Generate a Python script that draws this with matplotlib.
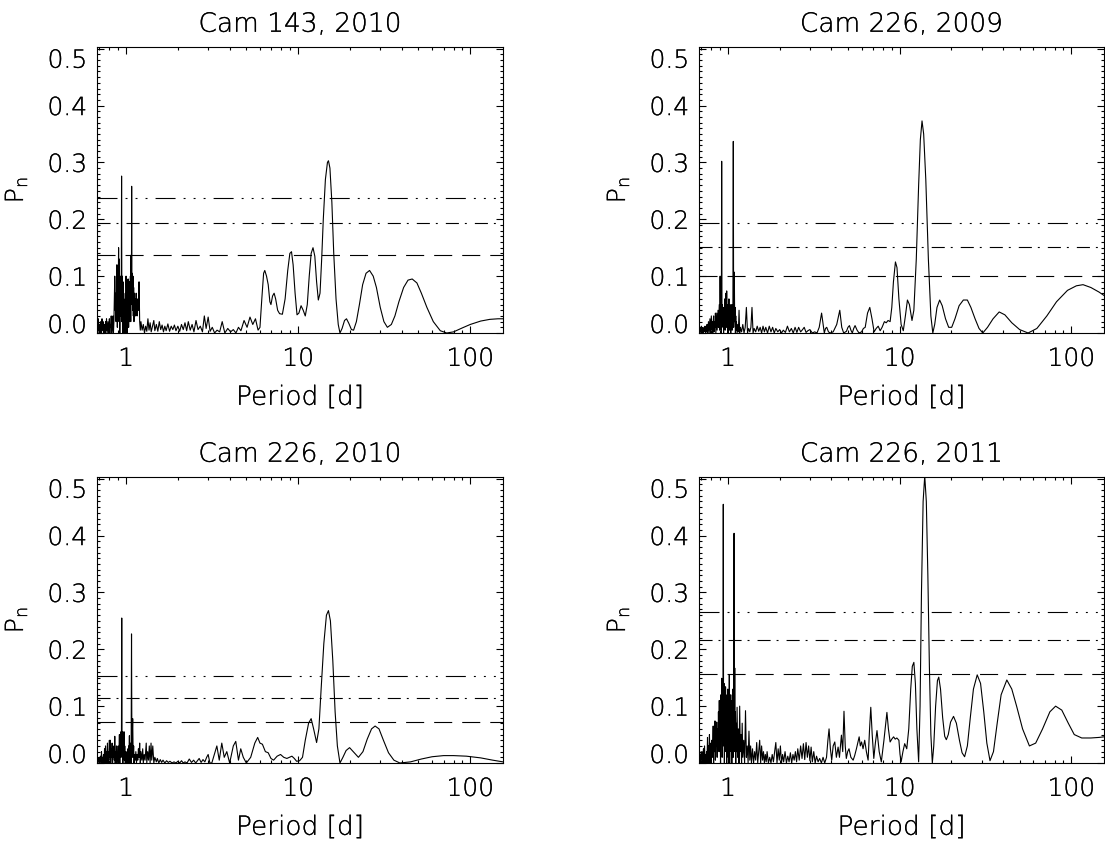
import matplotlib
matplotlib.use("Agg")
import matplotlib.pyplot as plt
import matplotlib.patheffects as pe
from matplotlib.ticker import LogLocator, MultipleLocator, NullFormatter

plt.rcParams['font.family'] = ['DejaVu Sans']
plt.rcParams['font.weight'] = 'light'
plt.rcParams['axes.titleweight'] = 'light'
plt.rcParams['axes.labelweight'] = 'light'
plt.rcParams['mathtext.fontset'] = 'custom'
plt.rcParams['mathtext.rm'] = 'DejaVu Sans:light'
plt.rcParams['lines.scale_dashes'] = False

titles = ["Cam 143, 2010", "Cam 226, 2009", "Cam 226, 2010", "Cam 226, 2011"]

# false alarm levels per panel (dashed, dash-dot, dash-dot-dot-dot)
fap_dash = [0.137, 0.101, 0.072, 0.157]
fap_dashdot = [0.194, 0.152, 0.114, 0.217]
fap_dash3dot = [0.238, 0.193, 0.153, 0.266]

# (period [d], P_n)
cam143_2010 = [
    (0.680, 0.02), (0.685, 0.0), (0.690, 0.025), (0.695, 0.005), (0.700, 0.015),
    (0.705, 0.0), (0.710, 0.02), (0.715, 0.01), (0.720, 0.0), (0.725, 0.025),
    (0.730, 0.005), (0.735, 0.02), (0.740, 0.0), (0.745, 0.015), (0.750, 0.01),
    (0.755, 0.0), (0.760, 0.02), (0.765, 0.005), (0.770, 0.025), (0.775, 0.0),
    (0.780, 0.01), (0.785, 0.02), (0.790, 0.0), (0.795, 0.005), (0.800, 0.025),
    (0.805, 0.0), (0.810, 0.015), (0.815, 0.01), (0.820, 0.03), (0.825, 0.0),
    (0.830, 0.005), (0.835, 0.02), (0.840, 0.03), (0.845, 0.0), (0.850, 0.02),
    (0.855, 0.06), (0.860, 0.10), (0.865, 0.04), (0.870, 0.07), (0.875, 0.02),
    (0.880, 0.09), (0.885, 0.12), (0.890, 0.01), (0.895, 0.11), (0.900, 0.05),
    (0.905, 0.15), (0.910, 0.02), (0.915, 0.13), (0.920, 0.0), (0.925, 0.10),
    (0.930, 0.03), (0.935, 0.09), (0.938, 0.04), (0.942, 0.276), (0.946, 0.02),
    (0.950, 0.10), (0.955, 0.0), (0.960, 0.09), (0.965, 0.04), (0.970, 0.06),
    (0.975, 0.0), (0.980, 0.05), (0.985, 0.02), (0.990, 0.07), (0.995, 0.0),
    (1.000, 0.10), (1.005, 0.04), (1.010, 0.095), (1.015, 0.0), (1.020, 0.08),
    (1.025, 0.03), (1.030, 0.095), (1.035, 0.01), (1.040, 0.07), (1.045, 0.02),
    (1.050, 0.09), (1.055, 0.05), (1.060, 0.10), (1.065, 0.02), (1.070, 0.137),
    (1.074, 0.05), (1.078, 0.258), (1.082, 0.06), (1.087, 0.105), (1.092, 0.04),
    (1.097, 0.10), (1.102, 0.03), (1.107, 0.08), (1.112, 0.02), (1.117, 0.07),
    (1.122, 0.04), (1.130, 0.06), (1.137, 0.03), (1.145, 0.07), (1.150, 0.05),
    (1.160, 0.03), (1.170, 0.06), (1.180, 0.04), (1.190, 0.09), (1.200, 0.02),
    (1.210, 0.005), (1.220, 0.02), (1.240, 0.005), (1.260, 0.015), (1.280, 0.0),
    (1.300, 0.012), (1.320, 0.003), (1.340, 0.025), (1.360, 0.005), (1.380, 0.018),
    (1.400, 0.002), (1.420, 0.01), (1.450, 0.022), (1.470, 0.004), (1.500, 0.015),
    (1.530, 0.003), (1.560, 0.02), (1.590, 0.006), (1.620, 0.014), (1.650, 0.002),
    (1.680, 0.012), (1.710, 0.004), (1.750, 0.016), (1.790, 0.003), (1.830, 0.012),
    (1.870, 0.006), (1.910, 0.014), (1.950, 0.004), (2.000, 0.012), (2.050, 0.003),
    (2.100, 0.015), (2.150, 0.006), (2.200, 0.018), (2.250, 0.004), (2.300, 0.02),
    (2.360, 0.005), (2.420, 0.015), (2.480, 0.002), (2.550, 0.022), (2.620, 0.006),
    (2.700, 0.012), (2.780, 0.002), (2.850, 0.03), (2.920, 0.008), (3.000, 0.028),
    (3.080, 0.003), (3.170, 0.01), (3.270, 0.0), (3.380, 0.005), (3.500, 0.002),
    (3.620, 0.02), (3.750, 0.0), (3.900, 0.008), (4.050, 0.002), (4.200, 0.006),
    (4.350, 0.0), (4.500, 0.01), (4.650, 0.004), (4.850, 0.022), (5.050, 0.01),
    (5.250, 0.028), (5.450, 0.015), (5.650, 0.025), (5.850, 0.005), (6.000, 0.01),
    (6.150, 0.06), (6.300, 0.105), (6.400, 0.11), (6.550, 0.10), (6.700, 0.085),
    (6.850, 0.055), (6.950, 0.05), (7.100, 0.065), (7.250, 0.07), (7.400, 0.06),
    (7.600, 0.04), (7.800, 0.034), (8.100, 0.033), (8.400, 0.06), (8.700, 0.11),
    (8.950, 0.14), (9.150, 0.143), (9.350, 0.12), (9.600, 0.07), (9.850, 0.032),
    (10.10, 0.035), (10.40, 0.048), (10.70, 0.04), (11.00, 0.03), (11.30, 0.05),
    (11.60, 0.10), (11.90, 0.14), (12.20, 0.15), (12.50, 0.135), (12.80, 0.09),
    (13.10, 0.058), (13.40, 0.07), (13.70, 0.13), (14.00, 0.20), (14.40, 0.27),
    (14.80, 0.30), (15.00, 0.303), (15.30, 0.29), (15.70, 0.23), (16.10, 0.14),
    (16.60, 0.06), (17.10, 0.015), (17.50, 0.0), (18.00, 0.008), (18.60, 0.022),
    (19.10, 0.025), (19.70, 0.017), (20.40, 0.006), (21.00, 0.005), (21.80, 0.02),
    (22.70, 0.05), (23.70, 0.085), (24.80, 0.105), (26.00, 0.11), (27.30, 0.10),
    (28.50, 0.08), (30.00, 0.045), (31.50, 0.02), (33.00, 0.01), (34.80, 0.015),
    (36.50, 0.03), (38.50, 0.055), (41.00, 0.08), (43.50, 0.093), (46.00, 0.095),
    (49.00, 0.088), (52.00, 0.07), (56.00, 0.045), (61.00, 0.02), (67.00, 0.004),
    (73.00, 0.0), (80.00, 0.002), (90.00, 0.009), (100.0, 0.015), (115.0, 0.021),
    (130.0, 0.024), (145.0, 0.025), (155.0, 0.025),
]

cam226_2009 = [
    (0.680, 0.01), (0.685, 0.0), (0.690, 0.008), (0.695, 0.002), (0.700, 0.012),
    (0.705, 0.0), (0.710, 0.006), (0.715, 0.01), (0.720, 0.0), (0.725, 0.008),
    (0.730, 0.003), (0.735, 0.012), (0.740, 0.0), (0.745, 0.008), (0.750, 0.002),
    (0.755, 0.015), (0.760, 0.0), (0.765, 0.01), (0.770, 0.02), (0.775, 0.0),
    (0.780, 0.012), (0.785, 0.025), (0.790, 0.0), (0.795, 0.015), (0.800, 0.03),
    (0.805, 0.005), (0.810, 0.02), (0.815, 0.0), (0.820, 0.018), (0.825, 0.03),
    (0.830, 0.002), (0.835, 0.02), (0.840, 0.01), (0.845, 0.035), (0.850, 0.0),
    (0.855, 0.02), (0.860, 0.035), (0.865, 0.005), (0.870, 0.025), (0.875, 0.04),
    (0.880, 0.01), (0.885, 0.03), (0.890, 0.05), (0.895, 0.005), (0.900, 0.10),
    (0.905, 0.02), (0.910, 0.05), (0.915, 0.0), (0.919, 0.302), (0.923, 0.01),
    (0.928, 0.05), (0.933, 0.02), (0.938, 0.045), (0.943, 0.0), (0.948, 0.04),
    (0.953, 0.03), (0.958, 0.06), (0.963, 0.005), (0.968, 0.05), (0.973, 0.07),
    (0.978, 0.01), (0.983, 0.074), (0.988, 0.02), (0.993, 0.05), (0.998, 0.0),
    (1.003, 0.045), (1.008, 0.03), (1.013, 0.06), (1.018, 0.005), (1.023, 0.05),
    (1.028, 0.02), (1.033, 0.045), (1.038, 0.0), (1.043, 0.05), (1.048, 0.03),
    (1.053, 0.045), (1.058, 0.005), (1.063, 0.05), (1.068, 0.02), (1.074, 0.337),
    (1.079, 0.01), (1.084, 0.04), (1.089, 0.107), (1.094, 0.02), (1.100, 0.045),
    (1.105, 0.0), (1.110, 0.03), (1.115, 0.005), (1.120, 0.02), (1.130, 0.0),
    (1.140, 0.015), (1.150, 0.002), (1.160, 0.04), (1.170, 0.0), (1.180, 0.01),
    (1.200, 0.002), (1.220, 0.015), (1.240, 0.0), (1.260, 0.01), (1.280, 0.045),
    (1.300, 0.0), (1.320, 0.008), (1.340, 0.002), (1.360, 0.01), (1.380, 0.045),
    (1.400, 0.0), (1.420, 0.008), (1.450, 0.002), (1.480, 0.012), (1.510, 0.003),
    (1.540, 0.01), (1.570, 0.0), (1.600, 0.012), (1.630, 0.002), (1.660, 0.01),
    (1.700, 0.0), (1.740, 0.012), (1.780, 0.002), (1.820, 0.01), (1.860, 0.0),
    (1.900, 0.008), (1.950, 0.002), (2.000, 0.006), (2.050, 0.0), (2.100, 0.005),
    (2.160, 0.001), (2.220, 0.012), (2.280, 0.002), (2.340, 0.008), (2.400, 0.0),
    (2.460, 0.01), (2.520, 0.001), (2.580, 0.01), (2.650, 0.002), (2.720, 0.006),
    (2.780, 0.01), (2.850, 0.001), (2.920, 0.004), (3.000, 0.006), (3.100, 0.0),
    (3.200, 0.002), (3.300, 0.0), (3.400, 0.01), (3.510, 0.035), (3.600, 0.01),
    (3.640, 0.0), (3.700, 0.008), (3.760, 0.01), (3.850, 0.002), (3.940, 0.0),
    (4.100, 0.002), (4.300, 0.015), (4.480, 0.04), (4.600, 0.01), (4.720, 0.0),
    (4.900, 0.003), (5.000, 0.01), (5.100, 0.013), (5.200, 0.005), (5.300, 0.0),
    (5.400, 0.008), (5.500, 0.013), (5.650, 0.005), (5.800, 0.0), (6.000, 0.002),
    (6.150, 0.008), (6.300, 0.01), (6.500, 0.035), (6.700, 0.045), (6.900, 0.025),
    (7.100, 0.002), (7.300, 0.008), (7.500, 0.012), (7.700, 0.004), (7.900, 0.01),
    (8.150, 0.02), (8.350, 0.018), (8.560, 0.022), (8.800, 0.02), (9.000, 0.045),
    (9.200, 0.09), (9.450, 0.125), (9.650, 0.115), (9.900, 0.06), (10.20, 0.015),
    (10.50, 0.004), (10.80, 0.03), (11.10, 0.058), (11.40, 0.05), (11.80, 0.022),
    (12.10, 0.04), (12.50, 0.13), (12.90, 0.26), (13.20, 0.34), (13.50, 0.373),
    (13.80, 0.35), (14.20, 0.27), (14.70, 0.13), (15.20, 0.03), (15.60, 0.0),
    (16.00, 0.015), (16.50, 0.045), (17.10, 0.058), (17.70, 0.048), (18.50, 0.025),
    (19.30, 0.01), (20.10, 0.01), (21.00, 0.025), (22.20, 0.048), (23.50, 0.058),
    (24.80, 0.058), (26.00, 0.045), (27.50, 0.025), (29.00, 0.008), (30.50, 0.0),
    (32.50, 0.01), (35.00, 0.025), (38.00, 0.037), (41.00, 0.032), (45.00, 0.018),
    (50.00, 0.006), (56.00, 0.0), (63.00, 0.008), (72.00, 0.03), (82.00, 0.055),
    (95.00, 0.075), (107.0, 0.083), (117.0, 0.085), (130.0, 0.08), (145.0, 0.072),
    (155.0, 0.066),
]

cam226_2010 = [
    (0.680, 0.005), (0.685, 0.0), (0.690, 0.008), (0.695, 0.002), (0.700, 0.01),
    (0.705, 0.0), (0.710, 0.012), (0.715, 0.003), (0.720, 0.02), (0.725, 0.0),
    (0.730, 0.01), (0.735, 0.005), (0.740, 0.015), (0.745, 0.0), (0.750, 0.025),
    (0.755, 0.005), (0.760, 0.03), (0.765, 0.0), (0.770, 0.02), (0.775, 0.01),
    (0.780, 0.035), (0.785, 0.0), (0.790, 0.02), (0.795, 0.005), (0.800, 0.04),
    (0.805, 0.01), (0.810, 0.04), (0.815, 0.0), (0.820, 0.025), (0.825, 0.01),
    (0.830, 0.035), (0.835, 0.0), (0.840, 0.02), (0.845, 0.01), (0.850, 0.03),
    (0.855, 0.005), (0.860, 0.047), (0.865, 0.0), (0.870, 0.02), (0.875, 0.005),
    (0.880, 0.03), (0.885, 0.0), (0.890, 0.015), (0.895, 0.005), (0.900, 0.03),
    (0.905, 0.0), (0.910, 0.02), (0.915, 0.05), (0.920, 0.0), (0.925, 0.045),
    (0.930, 0.01), (0.935, 0.055), (0.940, 0.02), (0.944, 0.255), (0.948, 0.01),
    (0.953, 0.055), (0.958, 0.0), (0.963, 0.05), (0.968, 0.02), (0.973, 0.055),
    (0.978, 0.005), (0.983, 0.03), (0.990, 0.0), (0.995, 0.02), (1.000, 0.005),
    (1.005, 0.015), (1.010, 0.0), (1.015, 0.02), (1.020, 0.002), (1.025, 0.025),
    (1.030, 0.0), (1.035, 0.03), (1.040, 0.005), (1.046, 0.048), (1.050, 0.0),
    (1.055, 0.03), (1.060, 0.01), (1.065, 0.035), (1.070, 0.0), (1.076, 0.227),
    (1.082, 0.01), (1.087, 0.05), (1.093, 0.078), (1.100, 0.01), (1.107, 0.03),
    (1.113, 0.0), (1.120, 0.015), (1.130, 0.005), (1.140, 0.02), (1.150, 0.0),
    (1.160, 0.015), (1.170, 0.005), (1.180, 0.025), (1.190, 0.01), (1.200, 0.035),
    (1.210, 0.0), (1.220, 0.02), (1.235, 0.005), (1.250, 0.025), (1.260, 0.0),
    (1.275, 0.015), (1.290, 0.005), (1.310, 0.035), (1.320, 0.0), (1.335, 0.02),
    (1.350, 0.005), (1.365, 0.03), (1.380, 0.0), (1.397, 0.035), (1.410, 0.005),
    (1.430, 0.03), (1.450, 0.0), (1.470, 0.01), (1.500, 0.002), (1.520, 0.008),
    (1.550, 0.0), (1.580, 0.006), (1.610, 0.001), (1.640, 0.005), (1.680, 0.0),
    (1.720, 0.004), (1.760, 0.001), (1.800, 0.003), (1.850, 0.0), (1.900, 0.002),
    (1.950, 0.0), (2.000, 0.003), (2.050, 0.0), (2.100, 0.004), (2.150, 0.0),
    (2.200, 0.002), (2.260, 0.0), (2.330, 0.007), (2.400, 0.001), (2.470, 0.005),
    (2.540, 0.0), (2.600, 0.004), (2.660, 0.008), (2.730, 0.001), (2.800, 0.006),
    (2.870, 0.002), (2.940, 0.01), (3.000, 0.015), (3.070, 0.0), (3.150, 0.0),
    (3.370, 0.03), (3.480, 0.005), (3.600, 0.035), (3.720, 0.01), (3.850, 0.02),
    (4.000, 0.0), (4.200, 0.03), (4.340, 0.038), (4.500, 0.005), (4.640, 0.025),
    (4.800, 0.01), (5.000, 0.0), (5.300, 0.01), (5.600, 0.035), (5.820, 0.045),
    (6.000, 0.035), (6.200, 0.033), (6.450, 0.02), (6.700, 0.018), (6.950, 0.008),
    (7.200, 0.005), (7.550, 0.012), (7.900, 0.015), (8.250, 0.01), (8.600, 0.008),
    (8.900, 0.01), (9.200, 0.012), (9.500, 0.008), (9.800, 0.003), (10.20, 0.004),
    (10.60, 0.01), (11.00, 0.04), (11.50, 0.07), (11.90, 0.078), (12.30, 0.06),
    (12.80, 0.036), (13.20, 0.06), (13.60, 0.13), (14.10, 0.21), (14.60, 0.26),
    (15.00, 0.268), (15.40, 0.25), (15.90, 0.18), (16.40, 0.09), (16.90, 0.03),
    (17.50, 0.0), (18.20, 0.01), (19.00, 0.022), (19.90, 0.027), (20.90, 0.02),
    (22.40, 0.01), (23.80, 0.02), (25.20, 0.042), (26.70, 0.06), (28.00, 0.065),
    (29.50, 0.06), (31.30, 0.04), (33.50, 0.018), (36.00, 0.005), (39.00, 0.0),
    (45.00, 0.002), (52.00, 0.007), (60.00, 0.011), (70.00, 0.013), (80.00, 0.013),
    (95.00, 0.012), (115.0, 0.009), (135.0, 0.005), (155.0, 0.002),
]

cam226_2011 = [
    (0.680, 0.01), (0.685, 0.02), (0.690, 0.0), (0.695, 0.015), (0.700, 0.005),
    (0.705, 0.02), (0.710, 0.0), (0.715, 0.01), (0.720, 0.025), (0.725, 0.0),
    (0.730, 0.03), (0.735, 0.005), (0.740, 0.015), (0.745, 0.0), (0.750, 0.02),
    (0.755, 0.005), (0.760, 0.045), (0.765, 0.0), (0.770, 0.03), (0.775, 0.01),
    (0.780, 0.05), (0.785, 0.0), (0.790, 0.02), (0.795, 0.035), (0.800, 0.0),
    (0.805, 0.04), (0.810, 0.01), (0.815, 0.03), (0.820, 0.065), (0.825, 0.0),
    (0.830, 0.045), (0.835, 0.02), (0.840, 0.074), (0.845, 0.005), (0.850, 0.05),
    (0.855, 0.03), (0.860, 0.072), (0.865, 0.01), (0.870, 0.06), (0.875, 0.02),
    (0.880, 0.09), (0.885, 0.03), (0.890, 0.11), (0.895, 0.02), (0.900, 0.08),
    (0.905, 0.0), (0.910, 0.12), (0.915, 0.04), (0.920, 0.149), (0.925, 0.01),
    (0.930, 0.13), (0.935, 0.05), (0.939, 0.455), (0.943, 0.03), (0.948, 0.14),
    (0.953, 0.0), (0.958, 0.11), (0.963, 0.04), (0.968, 0.134), (0.973, 0.02),
    (0.978, 0.10), (0.983, 0.0), (0.988, 0.12), (0.993, 0.05), (0.998, 0.13),
    (1.003, 0.01), (1.008, 0.09), (1.013, 0.03), (1.018, 0.155), (1.023, 0.0),
    (1.028, 0.10), (1.033, 0.04), (1.038, 0.12), (1.043, 0.02), (1.048, 0.09),
    (1.053, 0.0), (1.058, 0.11), (1.063, 0.03), (1.068, 0.13), (1.073, 0.01),
    (1.080, 0.05), (1.085, 0.404), (1.090, 0.02), (1.095, 0.167), (1.100, 0.03),
    (1.105, 0.09), (1.110, 0.0), (1.115, 0.07), (1.120, 0.02), (1.130, 0.098),
    (1.140, 0.01), (1.150, 0.06), (1.160, 0.0), (1.170, 0.10), (1.180, 0.02),
    (1.190, 0.05), (1.200, 0.0), (1.210, 0.07), (1.220, 0.01), (1.235, 0.04),
    (1.250, 0.0), (1.265, 0.092), (1.280, 0.01), (1.295, 0.03), (1.310, 0.0),
    (1.325, 0.056), (1.340, 0.005), (1.355, 0.03), (1.370, 0.0), (1.390, 0.025),
    (1.410, 0.0), (1.430, 0.02), (1.450, 0.005), (1.470, 0.036), (1.490, 0.0),
    (1.510, 0.02), (1.530, 0.04), (1.550, 0.0), (1.570, 0.03), (1.590, 0.005),
    (1.610, 0.02), (1.630, 0.0), (1.650, 0.015), (1.670, 0.002), (1.690, 0.02),
    (1.720, 0.0), (1.750, 0.01), (1.780, 0.0), (1.810, 0.015), (1.840, 0.002),
    (1.870, 0.02), (1.900, 0.036), (1.930, 0.0), (1.960, 0.025), (1.990, 0.005),
    (2.020, 0.03), (2.050, 0.0), (2.080, 0.015), (2.110, 0.002), (2.150, 0.02),
    (2.190, 0.0), (2.230, 0.012), (2.270, 0.002), (2.310, 0.018), (2.350, 0.0),
    (2.390, 0.015), (2.430, 0.005), (2.470, 0.02), (2.510, 0.002), (2.550, 0.025),
    (2.600, 0.005), (2.650, 0.03), (2.700, 0.008), (2.750, 0.034), (2.800, 0.006),
    (2.850, 0.036), (2.900, 0.01), (2.950, 0.03), (3.000, 0.004), (3.050, 0.028),
    (3.100, 0.002), (3.160, 0.02), (3.220, 0.0), (3.280, 0.012), (3.350, 0.002),
    (3.420, 0.008), (3.500, 0.0), (3.580, 0.01), (3.660, 0.0), (3.750, 0.01),
    (3.820, 0.04), (3.880, 0.06), (3.950, 0.025), (4.020, 0.005), (4.100, 0.03),
    (4.190, 0.037), (4.280, 0.01), (4.380, 0.028), (4.460, 0.01), (4.580, 0.049),
    (4.660, 0.02), (4.740, 0.091), (4.820, 0.03), (4.890, 0.008), (4.980, 0.02),
    (5.070, 0.025), (5.200, 0.01), (5.360, 0.005), (5.470, 0.013), (5.600, 0.025),
    (5.810, 0.046), (5.900, 0.03), (6.000, 0.037), (6.120, 0.025), (6.260, 0.04),
    (6.400, 0.02), (6.550, 0.005), (6.680, 0.06), (6.790, 0.098), (6.920, 0.05),
    (7.070, 0.008), (7.220, 0.035), (7.380, 0.057), (7.600, 0.02), (7.820, 0.002),
    (8.100, 0.04), (8.430, 0.089), (8.600, 0.06), (8.800, 0.037), (9.000, 0.042),
    (9.220, 0.046), (9.420, 0.042), (9.630, 0.044), (9.900, 0.04), (10.05, 0.015),
    (10.20, 0.002), (10.45, 0.02), (10.70, 0.034), (11.00, 0.025), (11.30, 0.06),
    (11.60, 0.13), (11.85, 0.17), (12.10, 0.177), (12.35, 0.14), (12.60, 0.06),
    (12.90, 0.002), (13.15, 0.10), (13.40, 0.30), (13.70, 0.46), (14.00, 0.505),
    (14.30, 0.46), (14.60, 0.33), (14.90, 0.17), (15.20, 0.05), (15.50, 0.0),
    (15.80, 0.03), (16.20, 0.10), (16.60, 0.145), (16.90, 0.151), (17.30, 0.13),
    (17.80, 0.08), (18.30, 0.047), (18.70, 0.041), (19.20, 0.05), (19.80, 0.072),
    (20.60, 0.082), (21.40, 0.07), (22.30, 0.04), (23.10, 0.018), (23.90, 0.011),
    (24.80, 0.03), (25.80, 0.08), (26.90, 0.13), (28.30, 0.155), (29.60, 0.14),
    (30.90, 0.09), (32.20, 0.035), (33.60, 0.004), (35.20, 0.02), (37.00, 0.07),
    (39.00, 0.12), (42.10, 0.146), (45.00, 0.13), (48.00, 0.10), (52.00, 0.06),
    (57.00, 0.03), (62.00, 0.035), (68.00, 0.06), (75.00, 0.09), (81.00, 0.10),
    (88.00, 0.093), (96.00, 0.07), (104.0, 0.05), (115.0, 0.044), (130.0, 0.044),
    (145.0, 0.045), (155.0, 0.046),
]

series = [cam143_2010, cam226_2009, cam226_2010, cam226_2011]

# axes boxes in pixels: left, top, width, height
boxes = [(97, 47, 406, 286), (699, 47, 405, 286),
         (97, 477, 406, 286), (699, 477, 405, 286)]
W, H = 1105, 842

# darken the thin text a little
ink = [pe.withStroke(linewidth=0.15, foreground='black')]

fig = plt.figure(figsize=(W / 100, H / 100), dpi=100)

for i in range(4):
    l, t, w, h = boxes[i]
    ax = fig.add_axes([l / W, 1 - (t + h) / H, w / W, h / H])
    period = [p for p, v in series[i]]
    power = [v for p, v in series[i]]
    ax.plot(period, power, color='black', lw=0.8)

    ax.axhline(fap_dash[i], color='black', lw=0.8, dashes=(13, 7.2))
    ax.axhline(fap_dashdot[i], color='black', lw=0.8, dashes=(9.4, 4.3, 1.4, 5.8))
    ax.axhline(fap_dash3dot[i], color='black', lw=0.8,
               dashes=(14.4, 5.8, 1.4, 5.8, 1.4, 5.8, 1.4, 5.8))

    ax.set_xscale('log')
    ax.set_xlim(0.678, 155)
    ax.set_ylim(0, 0.503)
    ax.set_xticks([1, 10, 100], labels=['1', '10', '100'])
    ax.xaxis.set_minor_locator(LogLocator(subs=range(2, 10)))
    ax.xaxis.set_minor_formatter(NullFormatter())
    ax.set_yticks([0, 0.1, 0.2, 0.3, 0.4, 0.5],
                  labels=['0.0', '0.1', '0.2', '0.3', '0.4', '0.5'])
    ax.yaxis.set_minor_locator(MultipleLocator(0.01))
    ax.tick_params(which='both', direction='in', top=True, right=True,
                   width=0.8, labelsize=18)
    ax.tick_params(which='major', length=5)
    ax.tick_params(which='minor', length=2.5)
    ax.tick_params(axis='y', pad=7)
    ax.tick_params(axis='x', pad=10)
    ylabs = ax.get_yticklabels()
    ylabs[0].set_va('baseline')
    ylabs[-1].set_va('top')
    for lab in ax.get_xticklabels() + ylabs:
        lab.set_path_effects(ink)
    for s in ax.spines.values():
        s.set_linewidth(0.8)

    ax.set_title(titles[i], fontsize=19, pad=11, path_effects=ink)
    ax.set_xlabel('Period [d]', fontsize=19, labelpad=10, path_effects=ink)
    ax.set_ylabel(r'P$_\mathrm{n}$', fontsize=18, labelpad=13, path_effects=ink)

fig.savefig('out.png', dpi=100)
